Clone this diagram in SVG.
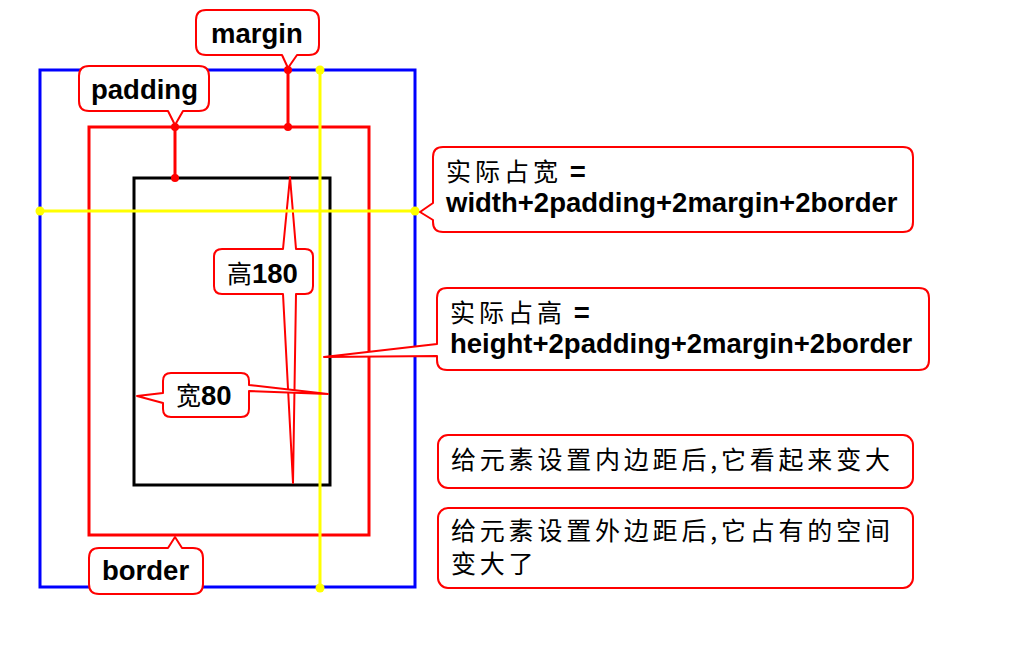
<svg xmlns="http://www.w3.org/2000/svg" width="1024" height="650" viewBox="0 0 1024 650">
<style>
.box{fill:none;stroke-width:3}
.co{fill:#fff;stroke:#f00;stroke-width:2;stroke-linejoin:round}
.lat{font-family:"Liberation Sans",Arial,sans-serif;font-weight:bold;font-size:27.5px;fill:#000}
.cjk{font-family:"Noto Sans CJK SC","Noto Sans",sans-serif;font-weight:normal;font-size:25px;fill:#000}
.ln{stroke-width:3;fill:none}
</style>
<rect width="1024" height="650" fill="#fff"/>
<g id="margin-box"><rect class="box" x="40" y="70" width="375" height="517" stroke="#00f"/></g>
<g id="border-box"><rect class="box" x="89" y="127" width="280" height="408" stroke="#f00"/></g>
<g id="content-box"><rect class="box" x="134" y="178" width="196" height="307" stroke="#000" stroke-width="2.5"/></g>
<g id="connectors">
<line class="ln" x1="288" y1="70" x2="288" y2="127" stroke="#f00"/>
<circle cx="288" cy="70" r="4" fill="#f00"/><circle cx="288" cy="127" r="4" fill="#f00"/>
<line class="ln" x1="175" y1="127" x2="175" y2="178" stroke="#f00"/>
<circle cx="175" cy="127" r="4" fill="#f00"/><circle cx="175" cy="178" r="4" fill="#f00"/>
</g>
<g id="height-label">
<path class="co" d="M222,249 L283,249 L290,177 L296,249 L305,249 Q313,249 313,257 L313,286 Q313,294 305,294 L296,294 L293,483 L283,294 L222,294 Q214,294 214,286 L214,257 Q214,249 222,249 Z"/>
<text x="227" y="283" class="lat"><tspan class="cjk" font-size="27">高</tspan>180</text>
</g>
<g id="yellow-lines">
<line class="ln" x1="320" y1="70" x2="320" y2="588" stroke="#ff0"/>
<line class="ln" x1="40" y1="211" x2="415" y2="211" stroke="#ff0"/>
<circle cx="320" cy="70" r="4.5" fill="#ff0"/><circle cx="320" cy="588" r="4.5" fill="#ff0"/>
<circle cx="40" cy="211" r="4.5" fill="#ff0"/><circle cx="415" cy="211" r="4.5" fill="#ff0"/>
</g>
<g id="width-label">
<path class="co" d="M171,373 L241,373 Q249,373 249,381 L249,385 L328,394 L249,391 L249,409 Q249,417 241,417 L171,417 Q163,417 163,409 L163,403 L137,396 L163,393 L163,381 Q163,373 171,373 Z"/>
<text x="176" y="405" class="lat"><tspan class="cjk" font-size="27">宽</tspan>80</text>
</g>
<g id="margin-label">
<path class="co" d="M206,10 L309,10 Q319,10 319,20 L319,45 Q319,55 309,55 L297,55 L288,68 L282,55 L206,55 Q196,55 196,45 L196,20 Q196,10 206,10 Z"/>
<text x="211" y="43" class="lat">margin</text>
</g>
<g id="padding-label">
<path class="co" d="M89,66 L199,66 Q209,66 209,76 L209,101 Q209,111 199,111 L183,111 L175,125 L168,111 L89,111 Q79,111 79,101 L79,76 Q79,66 89,66 Z"/>
<text x="91" y="99" class="lat">padding</text>
</g>
<g id="border-label">
<path class="co" d="M99,548 L168,548 L175,537 L182,548 L193,548 Q203,548 203,558 L203,584 Q203,594 193,594 L99,594 Q89,594 89,584 L89,558 Q89,548 99,548 Z"/>
<text x="102" y="580" class="lat">border</text>
</g>
<g id="actual-width">
<path class="co" d="M443,147 L903,147 Q913,147 913,157 L913,222 Q913,232 903,232 L443,232 Q433,232 433,222 L433,220 L420,212 L433,203 L433,157 Q433,147 443,147 Z"/>
<text class="lat"><tspan x="446" y="181"><tspan class="cjk" letter-spacing="4">实际占宽</tspan> =</tspan><tspan x="446" y="212">width+2padding+2margin+2border</tspan></text>
</g>
<g id="actual-height">
<path class="co" d="M447,288 L919,288 Q929,288 929,298 L929,360 Q929,370 919,370 L447,370 Q437,370 437,360 L437,356 L324,357 L437,344 L437,298 Q437,288 447,288 Z"/>
<text class="lat"><tspan x="450" y="322"><tspan class="cjk" letter-spacing="4">实际占高</tspan> =</tspan><tspan x="450" y="353">height+2padding+2margin+2border</tspan></text>
</g>
<g id="padding-note">
<rect class="co" x="438" y="435" width="475" height="53" rx="10"/>
<text x="451" y="469" class="cjk" letter-spacing="3.8">给元素设置内边距后,它看起来变大</text>
</g>
<g id="margin-note">
<rect class="co" x="438" y="508" width="475" height="80" rx="10"/>
<text class="cjk" letter-spacing="3.8"><tspan x="451" y="540">给元素设置外边距后,它占有的空间</tspan><tspan x="451" y="573">变大了</tspan></text>
</g>
</svg>
